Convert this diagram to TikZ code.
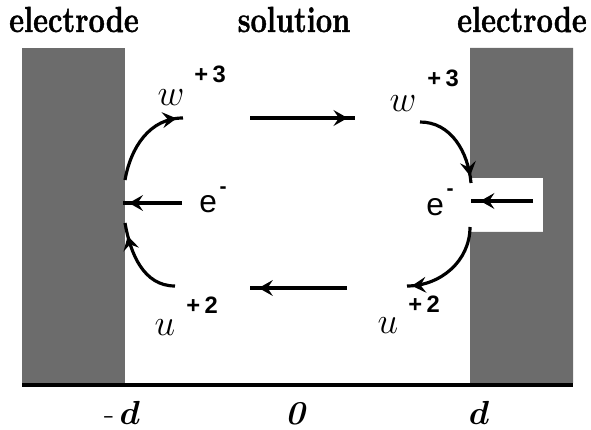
\documentclass[tikz,border=0pt]{standalone}
\usepackage{fix-cm}
\usepackage{amsmath,amssymb}
\usepackage{fontspec}
\newfontfamily\chargefont{Liberation Sans}
\newfontfamily\headfont{lmroman12-bold.otf}[FakeBold=1.3]
\usetikzlibrary{arrows.meta,decorations.markings}
\definecolor{ElecGray}{RGB}{108,108,108}
\tikzset{
  elec/.style={fill=ElecGray,draw=none},
  flow/.style={draw=black,line width=1.8pt,postaction={decorate},
    decoration={markings,mark=at position #1 with {\arrow{Stealth[length=8pt,width=9pt,inset=3pt]}}}},
  flow/.default=0.9,
  head/.style={font=\headfont\fontsize{16.5}{19}\selectfont,anchor=base,inner sep=0pt,
    transform shape,yscale=1.25},
  ion/.style={font=\fontsize{21}{24}\selectfont,anchor=base,inner sep=0pt},
  chg/.style={font=\chargefont\fontsize{13.5}{16}\selectfont\bfseries,anchor=base,inner sep=0pt},
  elab/.style={font=\chargefont\fontsize{18}{21}\selectfont,anchor=base west,inner sep=0pt},
}
\tikzset{axislab/.style={font=\fontsize{19}{22}\selectfont,anchor=base,inner sep=0pt}}

\begin{document}
\begin{tikzpicture}[x=0.2mm,y=0.2mm]
\useasboundingbox (0,0) rectangle (591,429);
% electrodes and axis
\fill[elec] (22,46) rectangle (125,381);
\fill[elec] (470,46) -- (470,197) -- (543,197) -- (543,251) -- (470,251)
  -- (470,381) -- (573,381) -- (573,46) -- cycle;
\draw[line width=2.4pt] (22,44) -- (573,44);
\node[head] (elecL) at (74,397) {electrode};
\node[head] (soln) at (294,397) {solution};
\node[head] (elecR) at (522,397) {electrode};
\node[axislab] (minusd) at (122,5) {-\kern3pt$\boldsymbol{d}$};
\node[axislab] (zero) at (295,5) {\bfseries\itshape 0};
\node[axislab] (plusd) at (479,5) {$\boldsymbol{d}$};
% species
\node[ion] (wL) at (171,323) {$w$};
\node[chg] (wLc) at (210,346) {+\kern2.5pt3};
\node[ion] (wR) at (403,317) {$w$};
\node[chg] (wRc) at (443,342) {+\kern2.5pt3};
\node[ion] (uL) at (165,94) {$u$};
\node[chg] (uLc) at (202,115) {+\kern2.5pt2};
\node[ion] (uR) at (388,96) {$u$};
\node[chg] (uRc) at (424,116) {+\kern2.5pt2};
\node[elab] (eL) at (199,216) {e\kern1.5pt\raisebox{11pt}{\fontsize{12}{12}\selectfont\bfseries -}};
\node[elab] (eR) at (426,214) {e\kern1.5pt\raisebox{11pt}{\fontsize{12}{12}\selectfont\bfseries -}};
% end points
\coordinate (topS) at (250,311);
\coordinate (topE) at (355,311);
\coordinate (botS) at (347,141);
\coordinate (botE) at (250,141);
\coordinate (eLS) at (182,226);
\coordinate (eLE) at (123,226);
\coordinate (eRS) at (533,228);
\coordinate (eRE) at (471,228);
\coordinate (luS) at (125,249);
\coordinate (luE) at (183,311);
\coordinate (llS) at (175,143);
\coordinate (llE) at (125,206);
\coordinate (ruS) at (420,307);
\coordinate (ruE) at (471,246);
\coordinate (rlS) at (470,202);
\coordinate (rlE) at (407,143);
% transport and transfer
\draw[flow=0.93] (topS) -- (topE);
\draw[flow=0.91] (botS) -- (botE);
\draw[flow=0.9] (eLS) -- (eLE);
\draw[flow=0.85] (eRS) -- (eRE);
\draw[flow=0.93] (luS) to[out=80,in=180] (luE);
\draw[flow=0.85] (llS) to[out=180,in=-80] (llE);
\draw[flow=0.92] (ruS) to[out=0,in=95] (ruE);
\draw[flow=0.95] (rlS) to[out=-90,in=0] (rlE);
\end{tikzpicture}
\end{document}
